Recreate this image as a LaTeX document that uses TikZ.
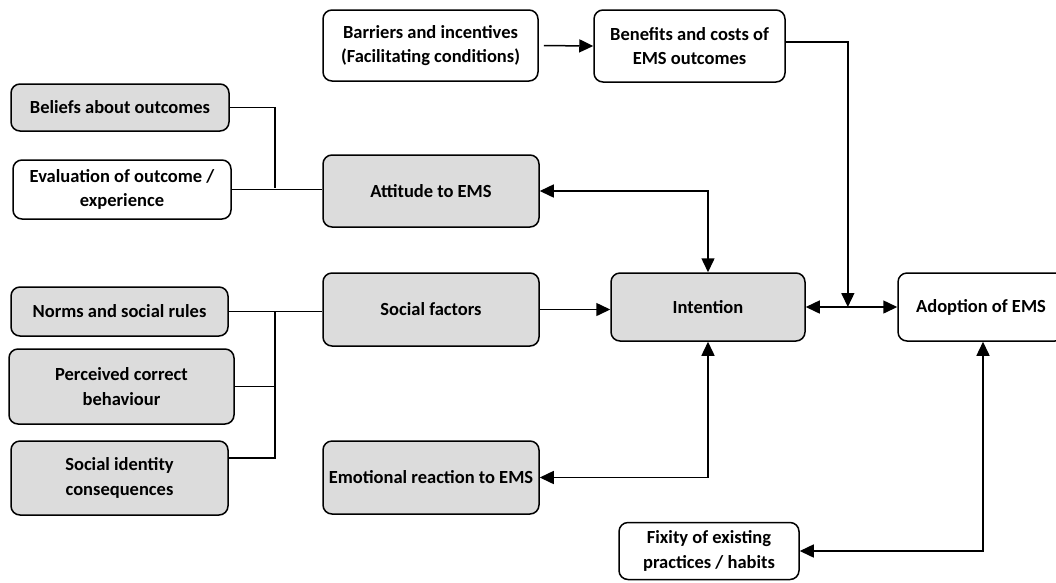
\documentclass[tikz,border=0pt]{standalone}
\usepackage{fontspec}
\setmainfont{Carlito}
\usetikzlibrary{arrows.meta,calc}
\definecolor{boxgray}{RGB}{220,220,220}

\begin{document}
\begin{tikzpicture}[x=1pt,y=-1pt,
  box/.style={draw, line width=1.5pt, rounded corners=9pt, align=center, inner sep=0pt,
    font=\fontsize{18.5}{24.5}\selectfont\bfseries},
  graybox/.style={box, fill=boxgray},
  link/.style={line width=1.5pt},
  arr/.style={link, -{Triangle[length=14pt,width=13pt]}},
  both/.style={link, {Triangle[length=14pt,width=13pt]}-{Triangle[length=14pt,width=13pt]}}]
\useasboundingbox (0,0) rectangle (1056,582);

% top row
\node[box, minimum width=215pt, minimum height=71pt] (barriers) at (430.5,45.5) {Barriers and incentives\\(Facilitating conditions)};
\node[box, minimum width=191pt, minimum height=72pt] (benefits) at (689.5,46) {Benefits and costs of\\EMS outcomes};

% left inputs
\node[graybox, minimum width=218pt, minimum height=47pt] (beliefs) at (120,107.5) {Beliefs about outcomes};
\node[box, minimum width=218pt, minimum height=59pt] (evaluation) at (122,189.5) {Evaluation of outcome /\\experience};
\node[graybox, minimum width=217pt, minimum height=49pt] (norms) at (119.5,311.5) {Norms and social rules};
\node[graybox, minimum width=225pt, minimum height=75pt] (perceived) at (121.5,386.5) {Perceived correct\\behaviour};
\node[graybox, minimum width=217pt, minimum height=74pt] (socialid) at (119.5,478) {Social identity\\consequences};

% middle column
\node[graybox, minimum width=216pt, minimum height=72pt] (attitude) at (431,191) {Attitude to EMS};
\node[graybox, minimum width=216pt, minimum height=73pt] (social) at (431,309.5) {Social factors};
\node[graybox, minimum width=216pt, minimum height=73pt] (emotional) at (431,477.5) {Emotional reaction to EMS};

% right part
\node[graybox, minimum width=194pt, minimum height=68pt] (intention) at (708,307) {Intention};
\node[box, minimum width=166pt, minimum height=68pt] (adoption) at (981,307) {Adoption of EMS};
\node[box, minimum width=180pt, minimum height=57pt] (fixity) at (709,551) {Fixity of existing\\practices / habits};

\coordinate (jatt) at (275,188);
\coordinate (jsoc) at (275,311);
\coordinate (meet) at ($(intention.east)!0.46!(adoption.west)$);

% connectors
\draw[link] (beliefs.east) -| (jatt);
\draw[link] (evaluation.east) -- (evaluation.east -| attitude.west);
\draw[link] (norms.east) -- (norms.east -| social.west);
\draw[link] (perceived.east) -- (perceived.east -| jsoc);
\draw[link] ([yshift=20pt]socialid.east) -| (jsoc);
\draw[arr, shorten <=5pt] (barriers.east) -- (benefits.west);
\draw[arr] ([yshift=4pt]benefits.east) -| (meet);
\draw[arr] (social.east) -- (social.east -| intention.west);
\draw[both] (intention.east) -- (adoption.west);
\draw[both] (attitude.east) -| (intention.north);
\draw[both] (emotional.east) -| (intention.south);
\draw[both] (fixity.east) -| ([xshift=2pt]adoption.south);
\end{tikzpicture}
\end{document}
